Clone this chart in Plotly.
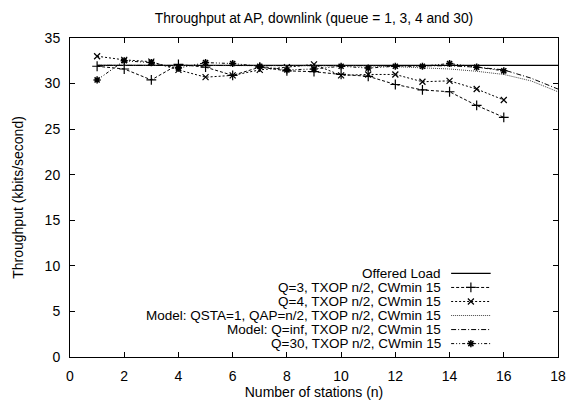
import plotly.graph_objects as go

# ---- data ----
n_meas = [1, 2, 3, 4, 5, 6, 7, 8, 9, 10, 11, 12, 13, 14, 15, 16]
n_model = [1, 2, 3, 4, 5, 6, 7, 8, 9, 10, 11, 12, 13, 14, 15, 16, 17, 18]

offered = [32.0] * 18
q3 = [31.9, 31.6, 30.4, 32.1, 31.8, 30.9, 31.8, 31.4, 31.3, 31.0, 30.8, 29.9, 29.3, 29.1, 27.6, 26.3]
q4 = [33.0, 32.6, 32.4, 31.5, 30.7, 30.9, 31.5, 31.8, 32.1, 30.9, 31.0, 31.0, 30.2, 30.3, 29.4, 28.2]
model_qsta1 = [32.0, 32.0, 32.0, 32.0, 32.0, 32.0, 32.0, 32.0, 32.0, 32.0, 31.95, 31.85, 31.75, 31.6, 31.35, 31.0, 30.3, 29.1]
model_qinf = [32.0, 32.0, 32.0, 32.0, 32.0, 32.0, 32.0, 32.0, 32.0, 32.0, 32.0, 32.0, 32.0, 31.95, 31.8, 31.5, 30.6, 29.4]
q30 = [30.4, 32.5, 32.3, 31.7, 32.3, 32.2, 31.9, 31.5, 31.6, 31.9, 31.7, 31.9, 31.9, 32.2, 31.8, 31.4]

legend_labels = [
    "Offered Load",
    "Q=3, TXOP n/2, CWmin 15",
    "Q=4, TXOP n/2, CWmin 15",
    "Model: QSTA=1, QAP=n/2, TXOP n/2, CWmin 15",
    "Model: Q=inf, TXOP n/2, CWmin 15",
    "Q=30, TXOP n/2, CWmin 15",
]

x_ticks = [0, 2, 4, 6, 8, 10, 12, 14, 16, 18]
y_ticks = [0, 5, 10, 15, 20, 25, 30, 35]

FONT = "Liberation Sans, Arial, Helvetica, sans-serif"

styles = [
    dict(dash="solid", width=1.2, color="#000", marker=None),
    dict(dash="3px,2px", width=1, color="#000",
         marker=dict(symbol="cross-thin", size=7, color="#000", line=dict(width=1.2, color="#000"))),
    dict(dash="2px,2px", width=1, color="#000",
         marker=dict(symbol="x-thin", size=6, color="#000", line=dict(width=1.2, color="#000"))),
    dict(dash="1px,1px", width=1, color="#444", marker=None),
    dict(dash="5px,2px,1px,2px", width=1, color="#000", marker=None),
    dict(dash="3px,2px,1px,2px,1px,2px", width=1, color="#000",
         marker=dict(symbol="asterisk-open", size=6, color="#000", line=dict(width=1.5, color="#000"))),
]

series = [
    (n_model, offered),
    (n_meas, q3),
    (n_meas, q4),
    (n_model, model_qsta1),
    (n_model, model_qinf),
    (n_meas, q30),
]

fig = go.Figure()
for (xs, ys), st, name in zip(series, styles, legend_labels):
    mode = "lines+markers" if st["marker"] else "lines"
    kw = dict(marker=st["marker"]) if st["marker"] else {}
    fig.add_trace(go.Scatter(x=xs, y=ys, mode=mode, name=name,
                             line=dict(color=st["color"], width=st["width"], dash=st["dash"]),
                             showlegend=False, **kw))

# ---- gnuplot-style key (text right-aligned, sample to its right) ----
key_text_x = 0.762
key_x0, key_x1 = 0.781, 0.862
key_y0 = 0.262
key_step = 0.044
for i, (name, st) in enumerate(zip(legend_labels, styles)):
    yk = key_y0 - i * key_step
    fig.add_annotation(x=key_text_x, y=yk, xref="paper", yref="paper", text=name,
                       showarrow=False, xanchor="right", yanchor="middle",
                       borderpad=0,
                       font=dict(family=FONT, size=13.5, color="#000"))
    fig.add_trace(go.Scatter(x=[key_x0, key_x1], y=[yk, yk],
                             xaxis="x2", yaxis="y2", mode="lines", showlegend=False,
                             line=dict(color=st["color"], width=st["width"], dash=st["dash"]),
                             hoverinfo="skip"))
    if st["marker"]:
        fig.add_trace(go.Scatter(x=[(key_x0 + key_x1) / 2], y=[yk],
                                 xaxis="x2", yaxis="y2", mode="markers", showlegend=False,
                                 marker=st["marker"], hoverinfo="skip"))

# page body has an 8px margin: the figure is sized/offset to compensate
fig.update_layout(
    width=574, height=395,
    margin=dict(l=62, r=24, t=29.5, b=46, autoexpand=False),
    paper_bgcolor="white", plot_bgcolor="white",
    font=dict(family=FONT, size=14, color="#000"),
    title=dict(text="Throughput at AP, downlink (queue = 1, 3, 4 and 30)",
               x=0.5, xref="paper", xanchor="center", y=1 - 10 / 395, yanchor="middle",
               font=dict(family=FONT, size=13.8, color="#000")),
    xaxis=dict(range=[0, 18], tickvals=x_ticks, ticktext=[str(v) for v in x_ticks],
               ticks="inside", ticklen=5, tickcolor="#000", mirror="allticks",
               showline=True, linecolor="#000", linewidth=1, showgrid=False, zeroline=False,
               ticklabelstandoff=6, automargin=False,
               title=dict(text="Number of stations (n)", standoff=2,
                          font=dict(family=FONT, size=14))),
    yaxis=dict(range=[0, 35], tickvals=y_ticks, ticktext=[str(v) for v in y_ticks],
               ticks="inside", ticklen=5, tickcolor="#000", mirror="allticks",
               showline=True, linecolor="#000", linewidth=1, showgrid=False, zeroline=False,
               ticklabelstandoff=6, automargin=False,
               title=dict(text="Throughput (kbits/second)", standoff=17,
                          font=dict(family=FONT, size=14))),
    xaxis2=dict(overlaying="x", range=[0, 1], visible=False, fixedrange=True),
    yaxis2=dict(overlaying="y", range=[0, 1], visible=False, fixedrange=True),
)

fig.write_html("out.html")
